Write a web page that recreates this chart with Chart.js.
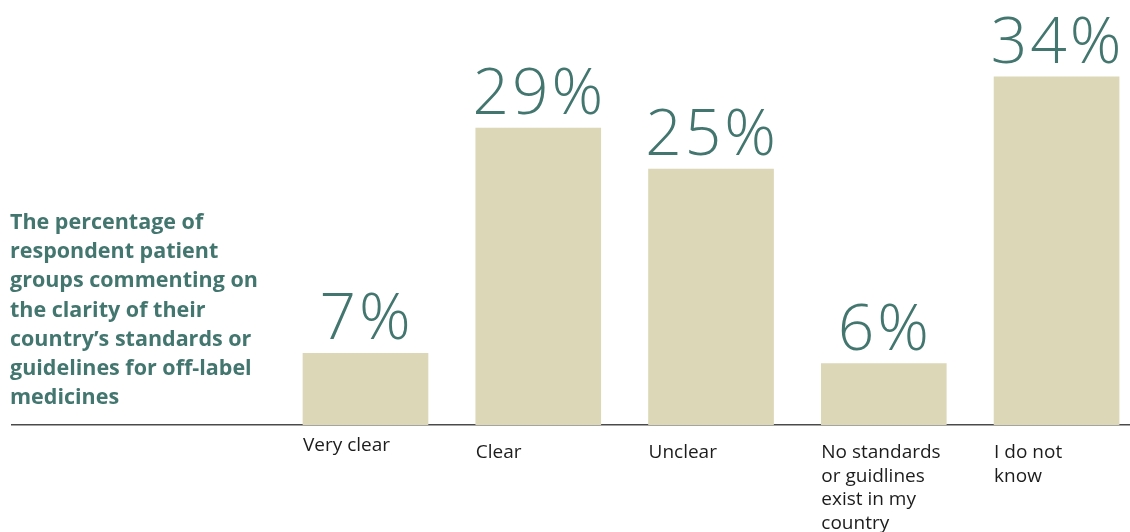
<!DOCTYPE html>
<html>
<head>
<meta charset="utf-8">
<script src="https://cdn.jsdelivr.net/npm/chart.js@4.4.1/dist/chart.umd.min.js"></script>
<style>
  html, body { margin: 0; padding: 0; background: #ffffff; }
  #wrap { width: 1130px; height: 532px; }
</style>
</head>
<body>
<div id="wrap"><canvas id="chart" width="1130" height="532"></canvas></div>
<script>
// Survey responses: clarity of national standards for off-label medicines
const categories = [
  ['Very clear'],
  ['Clear'],
  ['Unclear'],
  ['No standards', 'or guidlines', 'exist in my', 'country'],
  ['I do not', 'know']
];
const percentages = [7, 29, 25, 6, 34];
const valueLabels = ['7%', '29%', '25%', '6%', '34%'];
const titleLines = [
  'The percentage of',
  'respondent patient',
  'groups commenting on',
  'the clarity of their',
  'country\u2019s standards or',
  'guidelines for off-label',
  'medicines'
];

const TEAL = '#42766f';
const BAR = '#dcd7b7';

const points = percentages.map((v, i) => ({ x: i, y: v }));

const overlay = {
  id: 'overlay',
  afterDatasetsDraw(chart) {
    const ctx = chart.ctx;
    const meta = chart.getDatasetMeta(0);
    ctx.save();

    // value labels above each bar
    ctx.fillStyle = TEAL;
    ctx.font = '300 64px "Open Sans"';
    ctx.textAlign = 'center';
    ctx.textBaseline = 'alphabetic';
    try { ctx.letterSpacing = '3px'; } catch (e) {}
    meta.data.forEach((bar, i) => {
      ctx.fillText(valueLabels[i], bar.x + 1, bar.y - 14);
    });
    try { ctx.letterSpacing = '0px'; } catch (e) {}

    // category labels, left-aligned under each bar
    ctx.fillStyle = '#1c1c1c';
    ctx.font = '19px "Open Sans"';
    ctx.textAlign = 'left';
    ctx.textBaseline = 'middle';
    const base = chart.chartArea.bottom;
    meta.data.forEach((bar, i) => {
      const left = bar.x - bar.width / 2;
      const top = base + (i === 0 ? 21 : 28);
      categories[i].forEach((line, k) => {
        ctx.fillText(line, left, top + k * 23.5);
      });
    });

    // side title
    ctx.fillStyle = TEAL;
    ctx.font = 'bold 21.5px "Open Sans"';
    ctx.textBaseline = 'middle';
    titleLines.forEach((line, k) => {
      ctx.fillText(line, 10, 222.5 + k * 29.3);
    });
    ctx.restore();
  }
};

new Chart(document.getElementById('chart'), {
  type: 'bar',
  data: {
    datasets: [{
      data: points,
      backgroundColor: BAR,
      borderWidth: 0,
      barThickness: 125
    }]
  },
  options: {
    responsive: false,
    animation: false,
    layout: { padding: { left: 12, right: 0, top: 0, bottom: 107 } },
    plugins: { legend: { display: false }, tooltip: { enabled: false } },
    scales: {
      x: {
        type: 'linear',
        offset: false,
        min: -2.046,
        max: 4.425,
        grid: { display: false, drawTicks: false },
        border: { display: true, color: '#4a4a4a', width: 1.5 },
        ticks: { display: false }
      },
      y: {
        min: 0,
        max: 41.5,
        display: false
      }
    }
  },
  plugins: [overlay]
});
</script>
</body>
</html>
